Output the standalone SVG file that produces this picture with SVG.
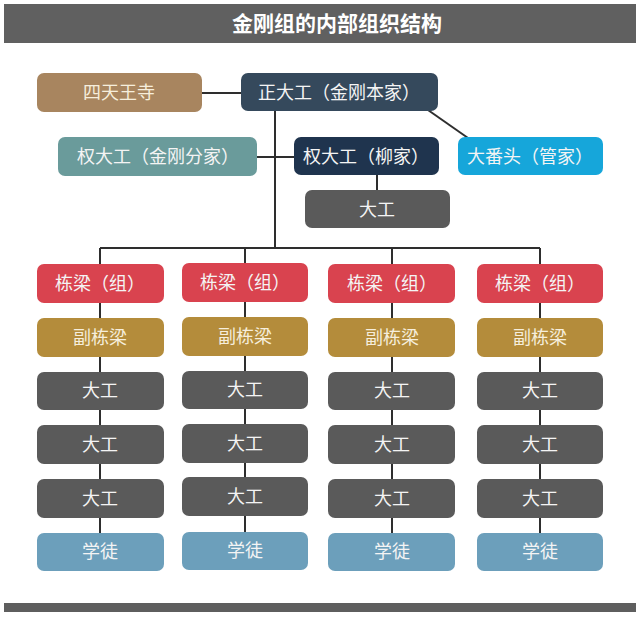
<svg xmlns="http://www.w3.org/2000/svg" width="640" height="617" viewBox="0 0 640 617">
<style>
text{font-family:"Noto Sans CJK SC","Noto Sans",sans-serif;font-size:18px;fill:#f4f4f4;text-anchor:middle}
.t{font-size:21px;font-weight:bold;fill:#ffffff}
.ln{stroke:#2e2e2e;stroke-width:2;fill:none}
.r{rx:7;ry:7}
.tan{fill:#A8855F}.main{fill:#35495C}.teal{fill:#6A9B9B}.navy{fill:#1F344E}.cyan{fill:#16A6DA}.gray{fill:#5A5A5A}.red{fill:#D9434F}.gold{fill:#B48C3B}.blue{fill:#6C9FBB}
.cream{fill:#F6EEDC}
</style>
<rect x="4" y="4" width="632" height="39" fill="#606060"/>
<text class="t" x="337" y="31">金刚组的内部组织结构</text>
<rect x="4" y="603" width="632" height="9" fill="#5E5E5E"/>
<g id="connectors">
<line class="ln" x1="202" y1="93" x2="242" y2="93"/>
<line class="ln" x1="275" y1="110" x2="275" y2="248"/>
<line class="ln" x1="428" y1="110" x2="468" y2="138"/>
<line class="ln" x1="257" y1="157" x2="294" y2="157"/>
<line class="ln" x1="377" y1="175" x2="377" y2="190"/>
<line class="ln" x1="100" y1="248" x2="540" y2="248"/>
<line class="ln" x1="100" y1="248" x2="100" y2="533"/>
<line class="ln" x1="245" y1="248" x2="245" y2="532"/>
<line class="ln" x1="392" y1="248" x2="392" y2="533"/>
<line class="ln" x1="540" y1="248" x2="540" y2="533"/>
</g>
<g id="siten"><rect class="r tan" x="37" y="73" width="165" height="39"/><text class="cream" x="119" y="99">四天王寺</text></g>
<g id="sho"><rect class="r main" x="241" y="73" width="197" height="38"/><text x="339" y="99">正大工（金刚本家）</text></g>
<g id="gon-bunke"><rect class="r teal" x="58" y="137" width="199" height="39"/><text x="158" y="163">权大工（金刚分家）</text></g>
<g id="gon-yanagi"><rect class="r navy" x="294" y="137" width="145" height="38"/><text x="366" y="163">权大工（柳家）</text></g>
<g id="banto"><rect class="r cyan" x="458" y="137" width="145" height="38"/><text x="530" y="163">大番头（管家）</text></g>
<g id="daiku-top"><rect class="r gray" x="305" y="190" width="145" height="38"/><text x="377" y="216">大工</text></g>
<g id="col1">
<rect class="r red" x="37" y="264" width="127" height="39"/><text x="100" y="290">栋梁（组）</text>
<rect class="r gold" x="37" y="318" width="127" height="39"/><text class="cream" x="100" y="344">副栋梁</text>
<rect class="r gray" x="37" y="372" width="127" height="38"/><text x="100" y="397">大工</text>
<rect class="r gray" x="37" y="425" width="127" height="39"/><text x="100" y="451">大工</text>
<rect class="r gray" x="37" y="479" width="127" height="39"/><text x="100" y="505">大工</text>
<rect class="r blue" x="37" y="533" width="127" height="38"/><text x="100" y="558">学徒</text>
</g>
<g id="col2">
<rect class="r red" x="182" y="263" width="126" height="39"/><text x="245" y="289">栋梁（组）</text>
<rect class="r gold" x="182" y="317" width="126" height="39"/><text class="cream" x="245" y="343">副栋梁</text>
<rect class="r gray" x="182" y="371" width="126" height="38"/><text x="245" y="396">大工</text>
<rect class="r gray" x="182" y="424" width="126" height="39"/><text x="245" y="450">大工</text>
<rect class="r gray" x="182" y="477" width="126" height="39"/><text x="245" y="503">大工</text>
<rect class="r blue" x="182" y="532" width="126" height="38"/><text x="245" y="557">学徒</text>
</g>
<g id="col3">
<rect class="r red" x="328" y="264" width="127" height="39"/><text x="392" y="290">栋梁（组）</text>
<rect class="r gold" x="328" y="318" width="127" height="39"/><text class="cream" x="392" y="344">副栋梁</text>
<rect class="r gray" x="328" y="372" width="127" height="38"/><text x="392" y="397">大工</text>
<rect class="r gray" x="328" y="425" width="127" height="39"/><text x="392" y="451">大工</text>
<rect class="r gray" x="328" y="479" width="127" height="39"/><text x="392" y="505">大工</text>
<rect class="r blue" x="328" y="533" width="127" height="38"/><text x="392" y="558">学徒</text>
</g>
<g id="col4">
<rect class="r red" x="477" y="264" width="126" height="39"/><text x="540" y="290">栋梁（组）</text>
<rect class="r gold" x="477" y="318" width="126" height="39"/><text class="cream" x="540" y="344">副栋梁</text>
<rect class="r gray" x="477" y="372" width="126" height="38"/><text x="540" y="397">大工</text>
<rect class="r gray" x="477" y="425" width="126" height="39"/><text x="540" y="451">大工</text>
<rect class="r gray" x="477" y="479" width="126" height="39"/><text x="540" y="505">大工</text>
<rect class="r blue" x="477" y="533" width="126" height="38"/><text x="540" y="558">学徒</text>
</g>
</svg>
